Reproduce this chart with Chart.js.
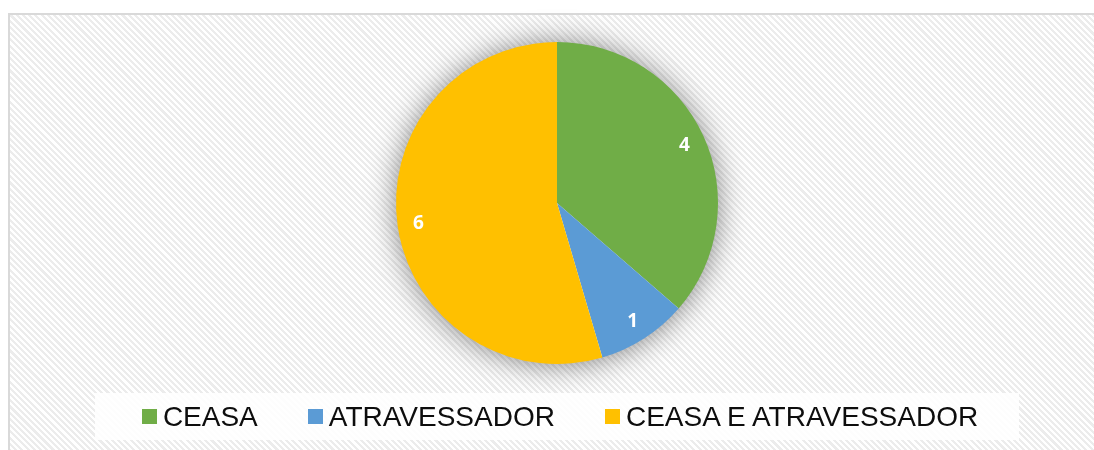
<!DOCTYPE html>
<html>
<head>
<meta charset="utf-8">
<script src="https://cdn.jsdelivr.net/npm/chart.js@4.4.1/dist/chart.umd.min.js"></script>
<style>
  html, body { margin: 0; padding: 0; background: #fff; overflow: hidden; }
  #page { position: relative; width: 1094px; height: 450px; }
  #frame {
    position: absolute; left: 8px; top: 13px; width: 1100px; height: 450px;
    border: 2px solid #d9d9d9; box-sizing: border-box;
    background: repeating-linear-gradient(45deg, #ffffff 0px, #ffffff 2.2px, #ececec 2.2px, #ececec 4.4px);
  }
  #chart { position: absolute; left: 0; top: 0; }
  #legend {
    position: absolute; left: 95px; top: 393px; width: 924px; height: 47px;
    background: rgba(255,255,255,0.9);
    display: flex; align-items: center; justify-content: center;
    padding-left: 6px; box-sizing: border-box;
    font-family: "Liberation Sans", Arial, sans-serif; font-size: 28px; line-height: 28px; color: #0d0d0d;
  }
  .item { display: flex; align-items: center; margin-right: 50px; white-space: nowrap; }
  .item:last-child { margin-right: 0; }
  .box { width: 15px; height: 15px; margin-right: 6px; }
</style>
</head>
<body>
<div id="page">
  <div id="frame"></div>
  <canvas id="chart" width="1094" height="450"></canvas>
  <div id="legend"></div>
</div>
<script>
// chart data
var categories = ['CEASA', 'ATRAVESSADOR', 'CEASA E ATRAVESSADOR'];
var values = [4, 1, 6];
var colors = ['#70ad47', '#5b9bd5', '#ffc000'];

// soft glow under the pie
var shadowPlugin = {
    id: 'pieShadow',
    beforeDatasetsDraw: function(chart) {
        var arc = chart.getDatasetMeta(0).data[0];
        if (!arc) return;
        var ctx = chart.ctx;
        ctx.save();
        ctx.shadowColor = 'rgba(0,0,0,0.5)';
        ctx.shadowBlur = 30;
        ctx.shadowOffsetY = 1;
        ctx.fillStyle = '#ffffff';
        ctx.beginPath();
        ctx.arc(arc.x, arc.y, arc.outerRadius - 1, 0, Math.PI * 2);
        ctx.fill();
        ctx.restore();
    }
};

// value labels inside slices
var labelPlugin = {
    id: 'sliceLabels',
    afterDatasetsDraw: function(chart) {
        var ctx = chart.ctx;
        var meta = chart.getDatasetMeta(0);
        ctx.save();
        ctx.fillStyle = '#ffffff';
        ctx.font = 'bold 19px "Open Sans", sans-serif';
        ctx.textAlign = 'center';
        ctx.textBaseline = 'middle';
        meta.data.forEach(function(arc, i) {
            var mid = (arc.startAngle + arc.endAngle) / 2;
            var r = arc.outerRadius * 0.87;
            ctx.fillText(values[i], arc.x + Math.cos(mid) * r, arc.y + Math.sin(mid) * r + 1);
        });
        ctx.restore();
    }
};

// html legend built from the chart data
var htmlLegend = {
    id: 'htmlLegend',
    afterUpdate: function(chart) {
        var $legend = document.getElementById('legend');
        $legend.innerHTML = '';
        chart.data.labels.forEach(function(label, i) {
            var item = document.createElement('div');
            item.className = 'item';
            var box = document.createElement('span');
            box.className = 'box';
            box.style.background = chart.data.datasets[0].backgroundColor[i];
            var txt = document.createElement('span');
            txt.textContent = label;
            item.appendChild(box);
            item.appendChild(txt);
            $legend.appendChild(item);
        });
    }
};

var ctx = document.getElementById('chart').getContext('2d');
var myChart = new Chart(ctx, {
    type: 'pie',
    data: {
        labels: categories,
        datasets: [{
            data: values,
            backgroundColor: colors,
            borderWidth: 0
        }]
    },
    options: {
        responsive: false,
        animation: false,
        layout: {
            padding: { left: 20, right: 0, top: 42, bottom: 86 }
        },
        plugins: {
            legend: { display: false },
            tooltip: { enabled: false }
        }
    },
    plugins: [shadowPlugin, labelPlugin, htmlLegend]
});
</script>
</body>
</html>
